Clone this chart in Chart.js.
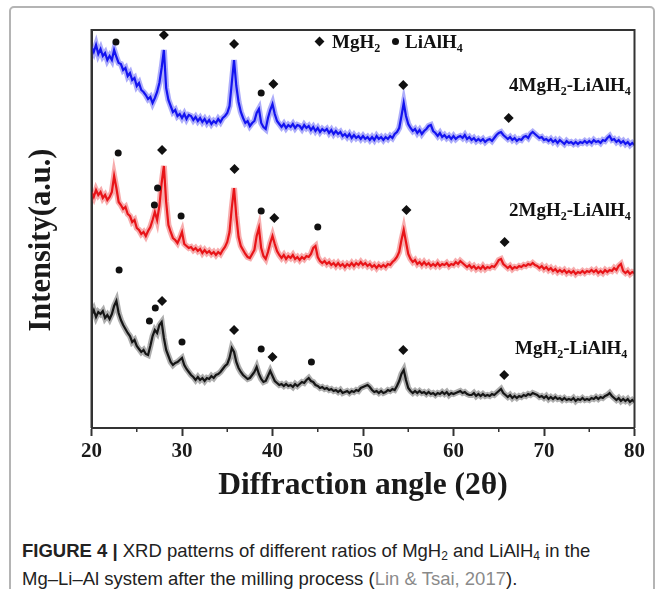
<!DOCTYPE html>
<html>
<head>
<meta charset="utf-8">
<script src="https://cdn.jsdelivr.net/npm/chart.js@4.4.1/dist/chart.umd.min.js"></script>
<style>
  html, body { margin: 0; padding: 0; background: #fff; }
  body { width: 663px; height: 589px; position: relative; overflow: hidden; }
  .frame { position: absolute; left: 9px; top: 6px; width: 646px; height: 640px; border: 2px solid #b4b4b4; border-radius: 5px; box-sizing: border-box; }
  #xrd { position: absolute; left: 0; top: 0; }
  .lbl { position: absolute; font: bold 19px "Liberation Serif", "Times New Roman", serif; line-height: 1; color: #111; white-space: nowrap; }
  .lbl sub { font-size: 12px; vertical-align: baseline; position: relative; top: 4px; }
  .dia { position: absolute; width: 7px; height: 7px; background: #111; transform: rotate(45deg); }
  .dot { position: absolute; width: 7px; height: 7px; background: #111; border-radius: 50%; }
  .caption { position: absolute; left: 22px; top: 538px; font: 18.5px "Liberation Sans", Arial, sans-serif; line-height: 26px; color: #222; white-space: nowrap; }
  .caption sub { font-size: 12px; vertical-align: baseline; position: relative; top: 3px; }
  .caption .ref { color: #8a8a8a; }
</style>
</head>
<body>
<div class="frame"></div>
<canvas id="xrd" width="663" height="506"></canvas>

<span class="dia" style="left:316px; top:38px;"></span>
<div class="lbl" style="left:332px; top:32px;">MgH<sub>2</sub></div>
<span class="dot" style="left:392px; top:38px;"></span>
<div class="lbl" style="left:405px; top:32px;">LiAlH<sub>4</sub></div>

<div class="lbl" style="left:509px; top:75px;">4MgH<sub>2</sub>-LiAlH<sub>4</sub></div>
<div class="lbl" style="left:509px; top:200px;">2MgH<sub>2</sub>-LiAlH<sub>4</sub></div>
<div class="lbl" style="left:515px; top:338px;">MgH<sub>2</sub>-LiAlH<sub>4</sub></div>

<div class="caption"><b>FIGURE 4 |</b> XRD patterns of different ratios of MgH<sub>2</sub> and LiAlH<sub>4</sub> in the<br>Mg–Li–Al system after the milling process (<span class="ref">Lin &amp; Tsai, 2017</span>).</div>

<script>
// 2-theta grid, 0.25 deg steps from 20 to 80
const angle = [];
for (let a = 20; a <= 80.001; a += 0.25) angle.push(+a.toFixed(2));

// intensities (a.u., offsets kept as plotted)
const mg4 = [
  381,376,383,374, 379,372,375,368, 372,368,378,371, 365,364,358,360, 352,355,348,350,
  342,345,338,336, 333,329,331,325, 330,336,345,360, 378,340,328,322, 316,318,312,314,
  310,314,309,313, 312,308,311,307, 310,306,309,305, 308,304,307,305, 309,306,310,312,
  315,322,345,368, 342,326,316,310, 305,307,302,305, 307,315,319,305, 301,299,310,318,
  324,314,307,304, 301,304,300,303, 301,304,300,303, 302,299,303,300, 302,298,301,297,
  300,296,299,297, 299,295,298,294, 297,294,296,292, 294,291,294,290, 293,290,292,289,
  292,289,291,288, 291,288,292,289, 291,288,291,289, 292,290,294,296, 300,312,325,312,
  304,300,297,299, 295,298,294,297, 299,302,303,297, 295,292,295,291, 293,290,292,289,
  292,289,291,292, 290,293,289,291, 288,290,287,289, 287,289,286,288, 289,287,290,293,
  295,296,293,291, 289,291,288,290, 287,289,288,291, 292,290,294,296, 294,292,290,291,
  288,289,287,289, 286,288,285,288, 286,284,287,285, 286,284,286,284, 286,285,287,285,
  287,285,288,286, 287,285,288,287, 290,292,288,289, 286,288,285,287, 284,286,283,285,
  283
];
const mg2 = [
  236,231,238,233, 236,230,233,228, 231,236,252,240, 226,223,219,221, 214,212,206,208,
  200,198,194,196, 192,197,201,208, 216,208,222,245, 262,226,203,196, 190,188,185,190,
  196,184,182,180, 181,178,180,177, 179,175,178,175, 177,174,176,173, 176,174,178,181,
  186,196,220,240, 212,191,182,178, 174,171,170,174, 178,192,200,180, 172,169,176,185,
  192,184,177,173, 170,173,169,172, 170,173,169,171, 168,171,169,172, 171,174,180,182,
  171,167,165,167, 164,166,163,165, 162,165,162,164, 161,164,162,165, 162,165,163,166,
  163,165,162,164, 161,163,160,163, 161,163,161,164, 163,166,168,171, 176,188,198,186,
  174,169,166,168, 164,166,163,166, 163,165,162,164, 162,165,162,164, 163,165,162,164,
  163,166,164,167, 165,163,161,163, 160,162,159,161, 159,162,159,161, 160,162,161,164,
  168,169,164,162, 160,162,159,161, 160,162,161,163, 162,164,163,165, 163,162,160,162,
  159,161,158,160, 157,159,156,158, 156,158,155,157, 155,157,154,156, 155,157,155,157,
  156,158,156,158, 155,157,155,158, 156,158,157,160, 158,162,164,157, 155,157,154,156,
  155
];
const mg1 = [
  113,118,111,116, 114,117,110,113, 109,114,122,127, 115,108,103,99, 95,92,86,88,
  82,79,76,78, 74,73,82,92, 98,95,103,106, 90,78,72,66, 63,65,66,68,
  70,63,59,56, 53,51,48,51, 48,50,47,50, 49,52,50,53, 54,56,59,62,
  64,70,80,76, 66,60,56,53, 51,49,50,53, 56,61,54,49, 46,47,52,57,
  52,47,45,43, 44,42,44,42, 43,41,44,42, 44,46,45,48, 50,47,46,43,
  42,40,41,39, 40,38,39,37, 38,36,38,35, 36,37,35,37, 36,38,37,40,
  41,42,43,41, 38,36,37,35, 37,35,36,38, 37,39,38,42, 47,54,58,48,
  40,37,35,37, 35,37,35,36, 34,36,34,35, 33,35,34,36, 34,36,33,35,
  34,35,36,37, 35,36,34,33, 33,35,32,34, 32,34,32,33, 32,34,33,35,
  37,39,35,33, 31,33,30,32, 30,32,31,33, 32,34,33,35, 34,33,31,32,
  30,32,29,31, 29,31,29,30, 28,30,28,29, 28,30,27,29, 28,30,28,29,
  28,30,29,31, 29,31,30,32, 33,35,32,30, 28,30,27,29, 27,29,26,28,
  26
];

// phase markers: angle and height above each pattern
const mgh2Angle  = [28.0, 35.75, 40.1, 54.45, 66.1, 27.8, 35.8, 40.2, 54.8, 65.65, 27.8, 35.75, 40.0, 54.45, 65.6];
const mgh2Height = [393, 384, 344, 343, 310, 278, 259, 210, 218, 186, 127, 98, 71, 78, 53];
const lialh4Angle  = [22.7, 38.75, 22.95, 26.95, 27.3, 29.9, 38.75, 45.0, 23.05, 26.4, 27.05, 30.0, 38.75, 44.3];
const lialh4Height = [386, 335, 275, 223, 240, 212, 217, 201, 158, 107, 120, 86, 79, 66];

const xTicks = [20, 30, 40, 50, 60, 70, 80];
const xMinor = [25, 35, 45, 55, 65, 75];

const SERIF = '"Liberation Serif", "Times New Roman", serif';
const pts = (xs, ys) => xs.map((x, i) => ({ x, y: ys[i] }));

// box round the plot, minor ticks, and the y title (sits a bit below centre in the original)
const framePlugin = {
  id: 'frame',
  afterDraw(chart) {
    const { ctx, chartArea: a, scales } = chart;
    ctx.save();
    ctx.strokeStyle = '#333';
    ctx.lineWidth = 2;
    ctx.beginPath();
    ctx.moveTo(a.left, a.bottom);
    ctx.lineTo(a.left, a.top);
    ctx.lineTo(a.right, a.top);
    ctx.lineTo(a.right, a.bottom);
    ctx.stroke();
    ctx.lineWidth = 1.5;
    ctx.beginPath();
    xMinor.forEach(v => {
      const px = scales.x.getPixelForValue(v);
      ctx.moveTo(px, a.bottom);
      ctx.lineTo(px, a.bottom + 4);
    });
    ctx.stroke();

    ctx.translate(42, 240);
    ctx.rotate(-Math.PI / 2);
    ctx.font = 'bold 30.5px ' + SERIF;
    ctx.fillStyle = '#1a1a1a';
    ctx.textAlign = 'center';
    ctx.textBaseline = 'middle';
    ctx.fillText('Intensity(a.u.)', 0, 0);
    ctx.restore();
  }
};

// each pattern twice: a soft wide stroke for the noise band, then the trace itself
const line = (label, values, color, width, order) => ({
  type: 'line',
  label,
  data: pts(angle, values),
  borderColor: color,
  borderWidth: width,
  pointRadius: 0,
  tension: 0,
  order
});

new Chart(document.getElementById('xrd'), {
  type: 'line',
  data: {
    datasets: [
      line('4MgH2-LiAlH4 band', mg4, 'rgba(20,20,240,0.35)', 6, 3),
      line('2MgH2-LiAlH4 band', mg2, 'rgba(232,20,24,0.35)', 6, 3),
      line('MgH2-LiAlH4 band', mg1, 'rgba(22,22,22,0.35)', 6, 3),
      line('4MgH2-LiAlH4', mg4, '#1414f0', 2.2, 2),
      line('2MgH2-LiAlH4', mg2, '#e81418', 2.2, 2),
      line('MgH2-LiAlH4', mg1, '#161616', 2.2, 2),
      {
        type: 'scatter', label: 'MgH2', data: pts(mgh2Angle, mgh2Height),
        pointStyle: 'rectRot', pointRadius: 5, backgroundColor: '#111', borderColor: '#111', borderWidth: 0, order: 1
      },
      {
        type: 'scatter', label: 'LiAlH4', data: pts(lialh4Angle, lialh4Height),
        pointStyle: 'circle', pointRadius: 3.5, backgroundColor: '#111', borderColor: '#111', borderWidth: 0, order: 1
      }
    ]
  },
  options: {
    responsive: false,
    animation: false,
    devicePixelRatio: 1,
    layout: { padding: { top: 30, right: 28.5, left: 0, bottom: 0 } },
    plugins: { legend: { display: false }, tooltip: { enabled: false } },
    scales: {
      x: {
        type: 'linear', min: 20, max: 80,
        afterBuildTicks: s => { s.ticks = xTicks.map(v => ({ value: v })); },
        afterFit: s => { s.height = 78; },
        ticks: { color: '#1a1a1a', padding: 3, font: { family: SERIF, weight: 'bold', size: 21 } },
        grid: { drawOnChartArea: false, tickLength: 8, tickWidth: 2, tickColor: '#333' },
        border: { color: '#333', width: 2 },
        title: { display: true, text: 'Diffraction angle (2θ)', color: '#1a1a1a', padding: { top: 0, bottom: 1 }, font: { family: SERIF, weight: 'bold', size: 31.5 } }
      },
      y: {
        min: 0, max: 398,
        afterFit: s => { s.width = 91.5; },
        ticks: { display: false },
        grid: { display: false },
        border: { color: '#333', width: 2 },
        title: { display: false }
      }
    }
  },
  plugins: [framePlugin]
});
</script>
</body>
</html>
